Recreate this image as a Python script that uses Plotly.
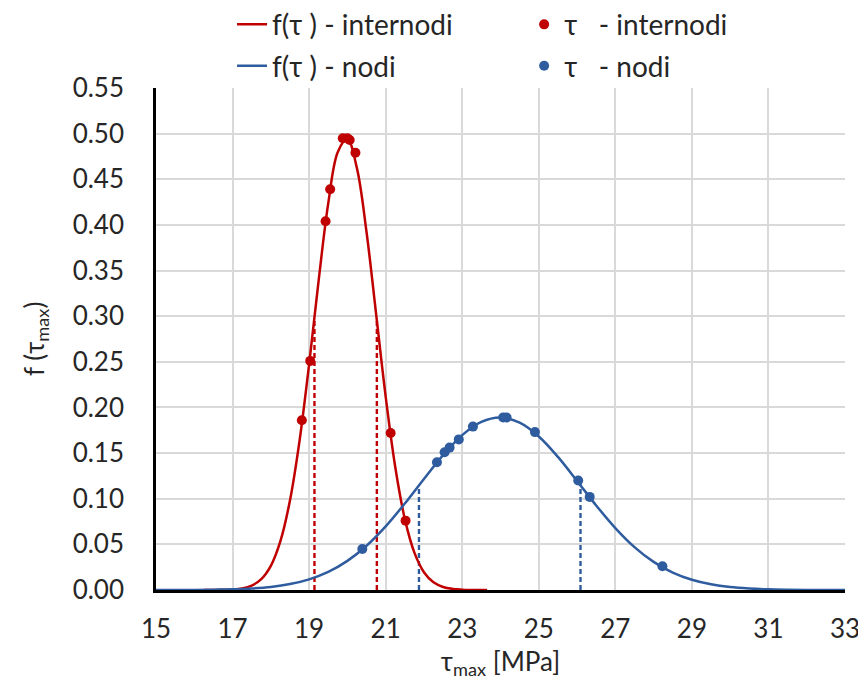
import plotly.graph_objects as go

# ---- data ----
# fitted density curves (sampled)
red_curve_x = [16.25, 16.5, 16.75, 17.0, 17.25, 17.5, 17.75, 18.0, 18.25, 18.5, 18.75,
               19.0, 19.25, 19.5, 19.75, 20.0, 20.25, 20.5, 20.75, 21.0, 21.25, 21.5,
               21.75, 22.0, 22.25, 22.5, 22.75, 23.0, 23.25, 23.5, 23.65]
red_curve_y = [0.0000, 0.0001, 0.0002, 0.0006, 0.0018, 0.0049, 0.0119, 0.0265, 0.0535,
               0.0981, 0.1634, 0.2472, 0.3395, 0.4236, 0.4800, 0.4940, 0.4619, 0.3922,
               0.3025, 0.2119, 0.1348, 0.0779, 0.0409, 0.0195, 0.0084, 0.0033, 0.0012,
               0.0004, 0.0001, 0.0000, 0.0000]

blue_curve_x = [15, 15.5, 16, 16.5, 17, 17.5, 18, 18.5, 19, 19.5, 20, 20.5, 21, 21.5, 22,
                22.5, 23, 23.5, 24, 24.5, 25, 25.5, 26, 26.5, 27, 27.5, 28, 28.5, 29,
                29.5, 30, 30.5, 31, 31.5, 32, 32.5, 33]
blue_curve_y = [0.0000, 0.0001, 0.0001, 0.0004, 0.0008, 0.0017, 0.0034, 0.0065, 0.0117,
                0.0198, 0.0319, 0.0485, 0.0697, 0.0947, 0.1217, 0.1478, 0.1697, 0.1842,
                0.1890, 0.1833, 0.1682, 0.1458, 0.1195, 0.0926, 0.0679, 0.0470, 0.0308,
                0.0191, 0.0112, 0.0062, 0.0032, 0.0016, 0.0007, 0.0003, 0.0001, 0.0001,
                0.0000]

# measured points
red_pts_x = [18.81, 19.03, 19.43, 19.55, 19.88, 20.00, 20.06, 20.21, 21.13, 21.52]
red_pts_y = [0.186, 0.251, 0.404, 0.439, 0.495, 0.495, 0.493, 0.479, 0.172, 0.076]

blue_pts_x = [20.39, 22.34, 22.54, 22.67, 22.91, 23.28, 24.07, 24.16, 24.90, 26.03, 26.33, 28.23]
blue_pts_y = [0.045, 0.140, 0.151, 0.156, 0.165, 0.179, 0.189, 0.189, 0.173, 0.120, 0.102, 0.026]

# mean +/- sigma markers
red_sigma_x = [19.14, 20.77]
red_sigma_y = [0.298, 0.298]
blue_sigma_x = [21.87, 26.09]
blue_sigma_y = [0.114, 0.119]

x_ticks = [15, 17, 19, 21, 23, 25, 27, 29, 31, 33]
y_ticks = [0.00, 0.05, 0.10, 0.15, 0.20, 0.25, 0.30, 0.35, 0.40, 0.45, 0.50, 0.55]

x_title = "τ<sub>max</sub> [MPa]"
y_title = "f (τ<sub>max</sub>)"

RED = "#C00000"
BLUE = "#2F5C9F"
FONT = "Lato"
TXT = "#262626"

fig = go.Figure()

# dashed sigma lines
for xs, ys, col in [(red_sigma_x, red_sigma_y, RED), (blue_sigma_x, blue_sigma_y, BLUE)]:
    for xv, yv in zip(xs, ys):
        fig.add_trace(go.Scatter(x=[xv, xv], y=[0, yv], mode="lines",
                                 line=dict(color=col, width=2.4, dash="5px,3px"),
                                 showlegend=False, hoverinfo="skip"))

fig.add_trace(go.Scatter(x=red_curve_x, y=red_curve_y, mode="lines",
                         line=dict(color=RED, width=2.5, shape="spline"),
                         name="f(τ ) - internodi", legend="legend", legendgroup="a"))
fig.add_trace(go.Scatter(x=blue_curve_x, y=blue_curve_y, mode="lines",
                         line=dict(color=BLUE, width=2.5, shape="spline"),
                         name="f(τ ) - nodi", legend="legend", legendgroup="b"))
fig.add_trace(go.Scatter(x=red_pts_x, y=red_pts_y, mode="markers",
                         marker=dict(color=RED, size=10),
                         name="τ\u00a0\u00a0\u00a0- internodi", legend="legend2", legendgroup="c"))
fig.add_trace(go.Scatter(x=blue_pts_x, y=blue_pts_y, mode="markers",
                         marker=dict(color=BLUE, size=10),
                         name="τ\u00a0\u00a0\u00a0- nodi", legend="legend2", legendgroup="d"))

legend_common = dict(font=dict(family=FONT, size=28, color=TXT),
                     bgcolor="rgba(0,0,0,0)", orientation="v",
                     xref="container", yref="paper", yanchor="top", xanchor="left",
                     tracegroupgap=2, itemwidth=30)

fig.update_layout(
    width=866, height=691,
    margin=dict(l=148, r=29, t=80, b=109, autoexpand=False),
    paper_bgcolor="white", plot_bgcolor="white",
    font=dict(family=FONT, size=26, color=TXT),
    legend=dict(x=0.2587, y=1.176, **legend_common),
    legend2=dict(x=0.596, y=1.176, **legend_common),
    xaxis=dict(range=[15, 33], tickvals=x_ticks, ticktext=[str(v) for v in x_ticks],
               showgrid=True, gridcolor="#D9D9D9", gridwidth=2,
               showline=True, linecolor="black", linewidth=2.5,
               zeroline=False, ticks="outside", ticklen=14, tickcolor="rgba(0,0,0,0)",
               layer="below traces", automargin=False,
               title=dict(text=x_title, standoff=10,
                          font=dict(family=FONT, size=26, color=TXT))),
    yaxis=dict(range=[0, 0.55], tickvals=y_ticks, ticktext=[f"{v:.2f}" for v in y_ticks],
               showgrid=True, gridcolor="#D9D9D9", gridwidth=2,
               showline=True, linecolor="black", linewidth=2.5,
               zeroline=False, ticks="outside", ticklen=24, tickcolor="rgba(0,0,0,0)",
               layer="below traces", automargin=False),
    annotations=[dict(text=y_title, textangle=-90, xref="paper", yref="paper",
                      x=-0.1756, y=0.5, xanchor="center", yanchor="middle",
                      showarrow=False, font=dict(family=FONT, size=26, color=TXT))],
)

fig.write_html("out.html")
